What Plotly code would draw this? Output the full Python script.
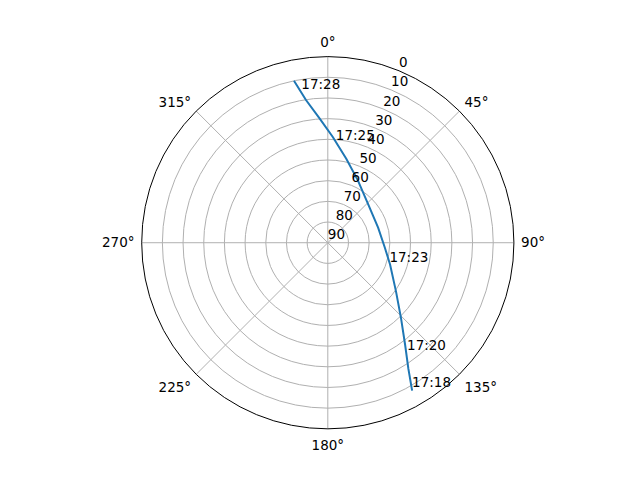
import plotly.graph_objects as go

# Satellite pass track (azimuth clockwise from north, elevation in degrees)
azimuth = [348.2, 351.3, 356.2, 2.7, 12.4, 25.9, 46.2, 73.3, 95.0, 109.3,
           125.5, 135.9, 142.9, 147.4, 150.3]
elevation = [10.0, 20.2, 29.7, 38.8, 48.4, 56.6, 63.0, 64.6, 62.3, 58.1,
             49.5, 39.1, 28.0, 17.7, 7.7]

# Time labels along the track
label_times = ["17:18", "17:20", "17:23", "17:25", "17:28"]
label_az = [150.3, 144.5, 110.0, 4.6, 350.0]
label_el = [7.7, 24.0, 58.3, 41.6, 16.4]

# Elevation tick labels, drawn at azimuth 22.5 like matplotlib does
radial_ticks = [0, 10, 20, 30, 40, 50, 60, 70, 80, 90]
rlabel_az = 22.5

font = dict(family="DejaVu Sans", size=13.5, color="black")

fig = go.Figure()
fig.add_trace(go.Scatterpolar(
    r=elevation, theta=azimuth, mode="lines",
    line=dict(color="#1f77b4", width=2), showlegend=False))
fig.add_trace(go.Scatterpolar(
    r=label_el, theta=label_az, mode="text", text=label_times,
    textposition="top right", textfont=font, showlegend=False))
fig.add_trace(go.Scatterpolar(
    r=radial_ticks, theta=[rlabel_az] * len(radial_ticks), mode="text",
    text=[str(t) for t in radial_ticks], textposition="top right",
    textfont=font, cliponaxis=False, showlegend=False, hoverinfo="skip"))

fig.update_layout(
    width=640, height=480,
    margin=dict(l=0, r=0, t=0, b=0),
    paper_bgcolor="white",
    font=font,
    polar=dict(
        domain=dict(x=[0.2089, 0.7905], y=[0.123, 0.899]),
        bgcolor="white",
        angularaxis=dict(
            rotation=90, direction="clockwise",
            tickmode="array", tickvals=list(range(0, 360, 45)),
            ticktext=[f"{a}°" for a in range(0, 360, 45)],
            showline=True, linecolor="black", linewidth=1,
            gridcolor="#b0b0b0", gridwidth=1,
            ticks="outside", ticklen=4, tickcolor="rgba(0,0,0,0)",
            tickfont=font,
        ),
        radialaxis=dict(
            range=[90, 0], tickvals=radial_ticks,
            showticklabels=False, showline=False, ticks="",
            gridcolor="#b0b0b0", gridwidth=1,
        ),
    ),
)

fig.write_html("out.html")
